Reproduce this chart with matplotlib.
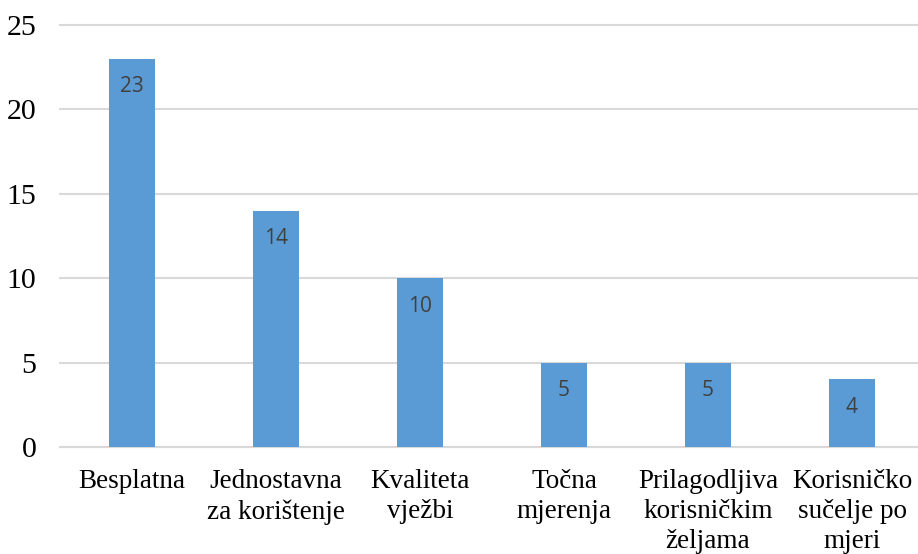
import matplotlib
matplotlib.use("Agg")
import matplotlib.pyplot as plt

categories = ["Besplatna", "Jednostavna\nza korištenje", "Kvaliteta\nvježbi",
              "Točna\nmjerenja", "Prilagodljiva\nkorisničkim\nželjama",
              "Korisničko\nsučelje po\nmjeri"]
values = [23, 14, 10, 5, 5, 4]
yticks = [0, 5, 10, 15, 20, 25]

fig = plt.figure(figsize=(9.18, 5.54), dpi=100)
ax = fig.add_axes([60/918, 1 - 447/554, 858/918, 422/554])

x = list(range(len(categories)))
bars = ax.bar(x, values, width=0.315, color="#5B9BD5", zorder=3)
ax.set_xlim(-0.5, -0.5 + 858/144)
ax.set_ylim(0, 25)
ax.set_yticks(yticks)
ax.yaxis.grid(True, color="#D9D9D9", linewidth=1.5, zorder=0)
for gl in ax.get_ygridlines():
    gl.set_clip_on(False)
for s in ["top", "right", "left"]:
    ax.spines[s].set_visible(False)
ax.spines["bottom"].set_color("#D9D9D9")
ax.spines["bottom"].set_linewidth(1.5)
ax.tick_params(length=0)
ax.set_xticks(x)
ax.set_xticklabels(categories, family="Liberation Serif", fontsize=19.5,
                   linespacing=1.25)
ax.tick_params(axis="x", pad=16)
ax.tick_params(axis="y", pad=17)
for lab in ax.get_yticklabels():
    lab.set_family("Liberation Serif")
    lab.set_fontsize(21.5)

for xi, v in zip(x, values):
    ax.annotate(str(v), (xi, v), xytext=(0, -28), textcoords="offset pixels",
                ha="center", va="center", fontsize=15, color="#404040",
                family="Open Sans", zorder=4)

fig.savefig("out.png", dpi=100)
